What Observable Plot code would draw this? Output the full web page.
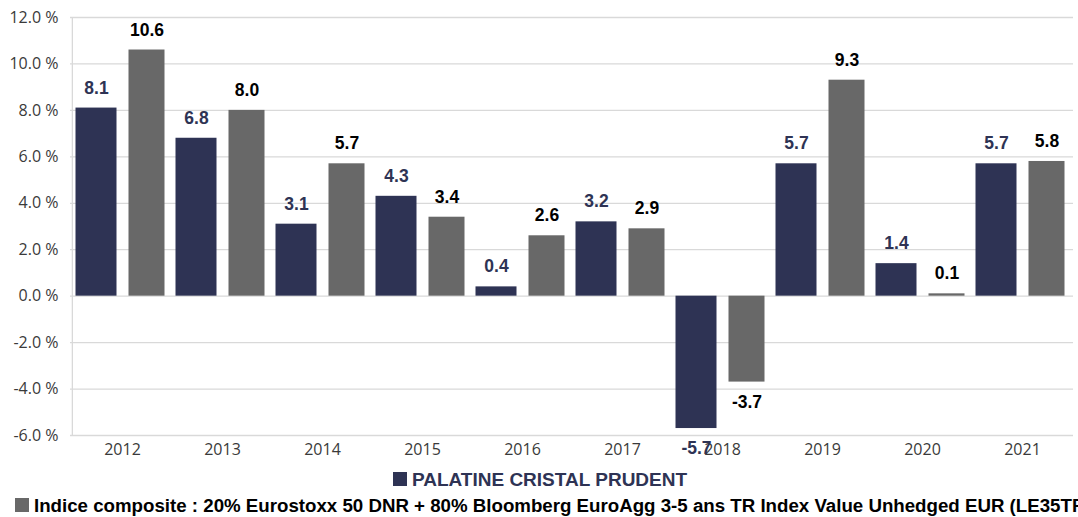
<!DOCTYPE html>
<html>
<head>
<meta charset="utf-8">
<script src="https://cdn.jsdelivr.net/npm/d3@7"></script>
<script src="https://cdn.jsdelivr.net/npm/@observablehq/plot@0.6"></script>
<style>
  body { margin: 0; background: #fff; width: 1078px; overflow: hidden; }
  #chart svg { display: block; }
  .legend { font-family: "Liberation Sans", Arial, sans-serif; font-weight: bold; font-size: 19px; white-space: nowrap; overflow: hidden; }
  .legend .sw { display: inline-block; width: 14px; height: 14px; margin-right: 5px; vertical-align: 0px; }
  #l1 { text-align: center; color: #2e3354; height: 28px; line-height: 28px; padding-left: 2px; }
  #l2 { color: #000; padding-left: 15px; height: 24px; line-height: 24px; font-size: 18.7px; }
</style>
</head>
<body>
<div id="chart"></div>
<div class="legend" id="l1"><span class="sw" style="background:#2e3354"></span>PALATINE CRISTAL PRUDENT</div>
<div class="legend" id="l2"><span class="sw" style="background:#686868"></span>Indice composite : 20% Eurostoxx 50 DNR + 80% Bloomberg EuroAgg 3-5 ans TR Index Value Unhedged EUR (LE35TRUU)</div>
<script>
const years = ["2012","2013","2014","2015","2016","2017","2018","2019","2020","2021"];
const fundValues = [8.1, 6.8, 3.1, 4.3, 0.4, 3.2, -5.7, 5.7, 1.4, 5.7];
const indexValues = [10.6, 8.0, 5.7, 3.4, 2.6, 2.9, -3.7, 9.3, 0.1, 5.8];
const yTicks = [-6, -4, -2, 0, 2, 4, 6, 8, 10, 12];
const navy = "#2e3354";
const grey = "#686868";

const fmt = v => (v < 0 ? "-" : "") + Math.abs(v).toFixed(1);

const fund = years.map((y, i) => ({year: y, v: fundValues[i]}));
const index = years.map((y, i) => ({year: y, v: indexValues[i]}));

const labelFont = {fontFamily: "Liberation Sans, Arial, sans-serif", fontWeight: "bold", fontSize: 17.5, lineAnchor: "middle", text: d => fmt(d.v)};
const W = 1078, ML = 70, MR = 5;
const bw = (W - ML - MR) / years.length;

const chart = Plot.plot({
  width: W,
  height: 466,
  marginTop: 17,
  marginBottom: 31,
  marginLeft: ML,
  marginRight: MR,
  style: {fontFamily: "Open Sans, sans-serif", fontSize: "16px", color: "#3a3a3a", background: "#fff"},
  x: {domain: years, padding: 0, label: null, tickSize: 0, tickPadding: 8},
  y: {domain: [-6, 12], ticks: yTicks, label: null, tickSize: 0, tickPadding: 12, tickFormat: d => fmt(d) + " %"},
  marks: [
    Plot.gridY(yTicks, {stroke: "#d9d9d9", strokeOpacity: 1, strokeWidth: 1.3}),
    Plot.ruleX([years[0]], {x: d => d, dx: -bw / 2, y1: -6, y2: 12, stroke: "#d9d9d9", strokeWidth: 1.3}),
    Plot.barY(fund, {x: "year", y: "v", fill: navy, insetLeft: 3.5, insetRight: 55.5}),
    Plot.barY(index, {x: "year", y: "v", fill: grey, insetLeft: 56.5, insetRight: 7.5}),
    Plot.text(fund.filter(d => d.v >= 0), {x: "year", y: "v", fill: navy, dx: -26, dy: -20, ...labelFont}),
    Plot.text(fund.filter(d => d.v < 0), {x: "year", y: "v", fill: navy, dx: -26, dy: 20, ...labelFont}),
    Plot.text(index.filter(d => d.v >= 0), {x: "year", y: "v", fill: "#000", dx: 24.5, dy: -20, ...labelFont}),
    Plot.text(index.filter(d => d.v < 0), {x: "year", y: "v", fill: "#000", dx: 24.5, dy: 20, ...labelFont})
  ]
});
document.getElementById("chart").appendChild(chart);
</script>
</body>
</html>
